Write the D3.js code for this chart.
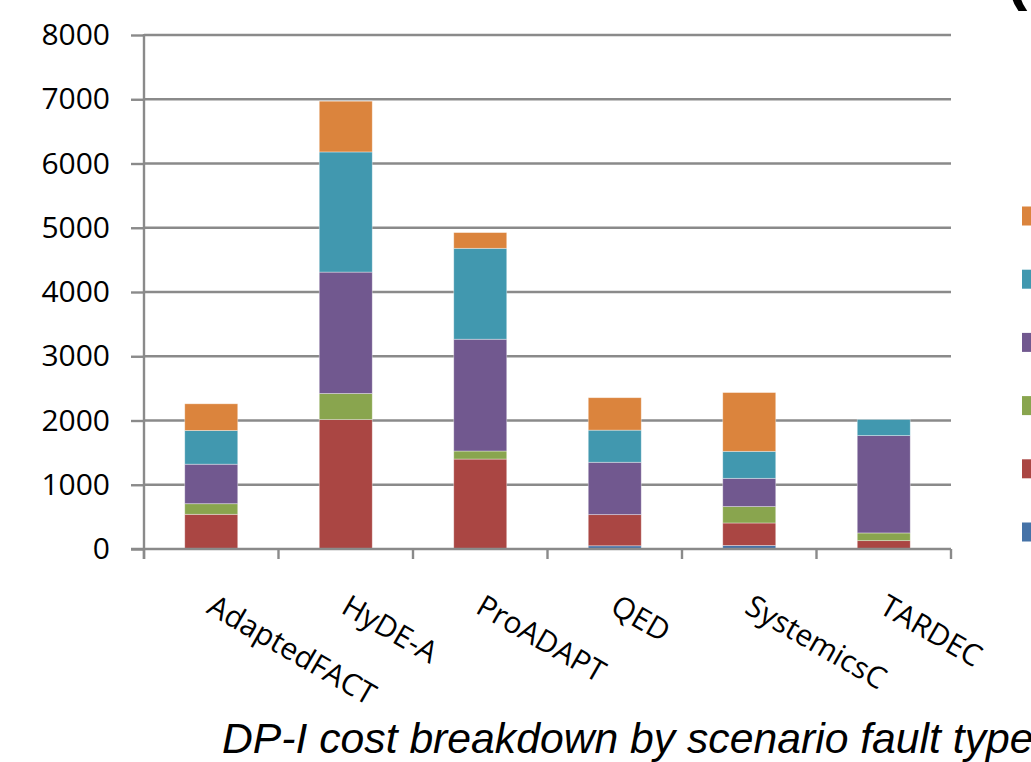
<!DOCTYPE html>
<html>
<head>
<meta charset="utf-8">
<script src="https://cdn.jsdelivr.net/npm/d3@7/dist/d3.min.js"></script>
<style>
  html, body { margin: 0; padding: 0; background: #fff; overflow: hidden; }
  svg { display: block; }
</style>
</head>
<body>
<svg id="chart" width="1031" height="762"></svg>
<script>
// Scenarios along the x axis
const categories = ["AdaptedFACT", "HyDE-A", "ProADAPT", "QED", "SystemicsC", "TARDEC"];

// Fault-type series, stacked bottom to top
const seriesNames = ["Fault type 1", "Fault type 2", "Fault type 3", "Fault type 4", "Fault type 5", "Fault type 6"];
const seriesColors = ["#4572A7", "#AA4643", "#89A54E", "#71588F", "#4198AF", "#DB843D"];

// Cost per scenario for each fault type (same order as categories)
const faultType1 = [0, 0, 0, 50, 55, 0];
const faultType2 = [540, 2015, 1400, 485, 350, 130];
const faultType3 = [165, 405, 125, 0, 255, 120];
const faultType4 = [615, 1890, 1740, 815, 440, 1515];
const faultType5 = [525, 1870, 1415, 500, 420, 250];
const faultType6 = [415, 790, 245, 505, 915, 0];

const yTicks = [0, 1000, 2000, 3000, 4000, 5000, 6000, 7000, 8000];
const titleText = "DP-I cost breakdown by scenario fault type";

const seriesValues = [faultType1, faultType2, faultType3, faultType4, faultType5, faultType6];
const rows = categories.map((c, i) => {
  const r = { category: c };
  seriesNames.forEach((s, k) => { r[s] = seriesValues[k][i]; });
  return r;
});

const svg = d3.select("#chart");
const plotLeft = 144, plotRight = 951, plotBottom = 549, plotTop = 35;

const x = d3.scaleBand().domain(categories).range([plotLeft, plotRight])
  .paddingInner(0.606).paddingOuter(0.303);
const y = d3.scaleLinear().domain([0, 8000]).range([plotBottom, plotTop]);

const gridColor = "#8a8a8a";
const labelFont = "'Open Sans', sans-serif";

// Value-axis tick marks and labels
const yAxis = svg.append("g")
  .attr("transform", `translate(${plotLeft},0)`)
  .call(d3.axisLeft(y).tickValues(yTicks).tickSize(13).tickPadding(21).tickFormat(d3.format("d")));
yAxis.select(".domain").remove();
yAxis.selectAll(".tick line").attr("stroke", gridColor).attr("stroke-width", 2.4);
yAxis.selectAll(".tick text")
  .attr("font-family", labelFont).attr("font-size", 30).attr("fill", "#000");

// Horizontal gridlines
svg.append("g").selectAll("line").data(yTicks.filter(d => d > 0)).join("line")
  .attr("x1", plotLeft).attr("x2", plotRight)
  .attr("y1", d => y(d)).attr("y2", d => y(d))
  .attr("stroke", gridColor).attr("stroke-width", 2.4);

// Stacked bars
const stack = d3.stack().keys(seriesNames)(rows);
svg.append("g").selectAll("g").data(stack).join("g")
  .attr("fill", (d, i) => seriesColors[i])
  .selectAll("rect").data(d => d.filter(p => p[1] - p[0] > 0)).join("rect")
  .attr("x", d => x(d.data.category))
  .attr("width", x.bandwidth())
  .attr("y", d => y(d[1]))
  .attr("height", d => y(d[0]) - y(d[1]))
  .attr("stroke", "rgba(255,255,255,0.45)")
  .attr("stroke-width", 0.8);

// Value axis line
svg.append("line")
  .attr("x1", plotLeft).attr("x2", plotLeft).attr("y1", plotTop - 1).attr("y2", plotBottom + 10)
  .attr("stroke", gridColor).attr("stroke-width", 2.4);

// Category axis with tick marks between categories
svg.append("line")
  .attr("x1", plotLeft - 13).attr("x2", plotRight).attr("y1", plotBottom).attr("y2", plotBottom)
  .attr("stroke", gridColor).attr("stroke-width", 2.6);
const step = x.step();
svg.append("g").selectAll("line").data(d3.range(categories.length + 1)).join("line")
  .attr("x1", i => plotLeft + i * step).attr("x2", i => plotLeft + i * step)
  .attr("y1", plotBottom).attr("y2", plotBottom + 10)
  .attr("stroke", gridColor).attr("stroke-width", 2.4);

// Rotated category labels
svg.append("g").selectAll("text").data(categories).join("text")
  .attr("transform", d => `translate(${x(d) + x.bandwidth() / 2 - 6},612) rotate(30)`)
  .attr("font-family", labelFont).attr("font-size", 30).attr("fill", "#000")
  .text(d => d);

// Legend swatches (top to bottom: last series first)
const legendY = d3.scalePoint().domain(seriesNames.slice().reverse()).range([216, 532]);
svg.append("g").selectAll("rect").data(seriesNames).join("rect")
  .attr("x", 1022).attr("width", 14)
  .attr("y", d => legendY(d) - 9.5).attr("height", 19)
  .attr("fill", (d, i) => seriesColors[i]);

// Opening bracket of the heading above the legend
svg.append("text")
  .attr("x", 1006).attr("y", -2)
  .attr("font-family", "'Liberation Sans', Arial, sans-serif")
  .attr("font-weight", "bold").attr("font-size", 64).attr("fill", "#000")
  .text("(");

// Caption
svg.append("text")
  .attr("x", 222).attr("y", 753)
  .attr("font-family", "'Liberation Sans', Arial, sans-serif")
  .attr("font-style", "italic").attr("font-size", 42.7).attr("fill", "#000")
  .text(titleText);
</script>
</body>
</html>
